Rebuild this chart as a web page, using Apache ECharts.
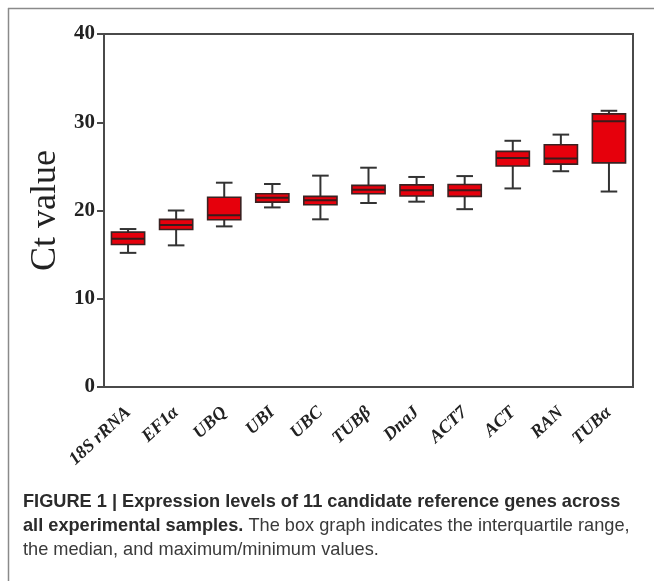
<!DOCTYPE html>
<html>
<head>
<meta charset="utf-8">
<script src="https://cdn.jsdelivr.net/npm/echarts@6/dist/echarts.min.js"></script>
<style>
html,body{margin:0;padding:0;background:#fff;}
#chart{width:654px;height:581px;}
</style>
</head>
<body>
<div id="chart"></div>
<script>
var categories = ['18S rRNA','EF1α','UBQ','UBI','UBC','TUBβ','DnaJ','ACT7','ACT','RAN','TUBα'];
var whiskerMin = [15.2, 16.05, 18.2, 20.35, 19.0, 20.85, 21.0, 20.15, 22.5, 24.45, 22.15];
var q1         = [16.15, 17.85, 18.95, 20.95, 20.65, 21.9, 21.65, 21.6, 25.05, 25.25, 25.4];
var median     = [16.8, 18.35, 19.45, 21.45, 21.15, 22.35, 22.3, 22.3, 25.95, 25.9, 30.1];
var q3         = [17.55, 19.0, 21.5, 21.9, 21.6, 22.85, 22.9, 22.95, 26.7, 27.45, 30.95];
var whiskerMax = [17.9, 20.0, 23.15, 23.0, 23.95, 24.85, 23.8, 23.9, 27.9, 28.6, 31.3];
var yTicks = [0, 10, 20, 30, 40];

var boxData = categories.map(function(c, i){
  return [i, whiskerMin[i], q1[i], median[i], q3[i], whiskerMax[i]];
});

var chart = echarts.init(document.getElementById('chart'), null, {renderer:'canvas'});

function renderBox(params, api){
  var idx = api.value(0);
  var band = api.size([1, 0])[0];
  var bw = band * 0.69;
  var cw = bw * 0.5;
  var pMin = api.coord([idx, api.value(1)]);
  var pQ1 = api.coord([idx, api.value(2)]);
  var pMed = api.coord([idx, api.value(3)]);
  var pQ3 = api.coord([idx, api.value(4)]);
  var pMax = api.coord([idx, api.value(5)]);
  var cx = pMed[0];
  var lineStyle = {stroke:'#333', lineWidth:2};
  return {
    type:'group',
    children:[
      {type:'line', shape:{x1:cx, y1:pMax[1], x2:cx, y2:pQ3[1]}, style:lineStyle},
      {type:'line', shape:{x1:cx, y1:pQ1[1], x2:cx, y2:pMin[1]}, style:lineStyle},
      {type:'line', shape:{x1:cx-cw/2, y1:pMax[1], x2:cx+cw/2, y2:pMax[1]}, style:lineStyle},
      {type:'line', shape:{x1:cx-cw/2, y1:pMin[1], x2:cx+cw/2, y2:pMin[1]}, style:lineStyle},
      {type:'rect', shape:{x:cx-bw/2, y:pQ3[1], width:bw, height:pQ1[1]-pQ3[1]},
        style:{fill:'#e6000c', stroke:'#3a2222', lineWidth:1.6}},
      {type:'line', shape:{x1:cx-bw/2, y1:pMed[1], x2:cx+bw/2, y2:pMed[1]}, style:{stroke:'#3a1a1a', lineWidth:2}}
    ]
  };
}

var option = {
  backgroundColor:'#fff',
  animation:false,
  grid:{left:104, right:21, top:34, bottom:194, show:true, borderColor:'#4a4a4a', borderWidth:2, backgroundColor:'transparent'},
  xAxis:{
    type:'category',
    data:categories,
    axisLine:{lineStyle:{color:'#4a4a4a', width:2}},
    axisTick:{alignWithLabel:true, length:6, lineStyle:{color:'#4a4a4a', width:2}},
    axisLabel:{
      rotate:43, margin:23, interval:0,
      fontFamily:'Liberation Serif', fontStyle:'italic', fontWeight:'bold', fontSize:18, color:'#222'
    }
  },
  yAxis:{
    type:'value', min:yTicks[0], max:yTicks[yTicks.length-1], interval:10,
    name:'Ct value', nameLocation:'middle', nameGap:39,
    nameTextStyle:{fontFamily:'Liberation Serif', fontSize:36, color:'#222'},
    axisLine:{show:true, lineStyle:{color:'#4a4a4a', width:2}},
    axisTick:{show:true, length:7, lineStyle:{color:'#4a4a4a', width:2}},
    splitLine:{show:false},
    axisLabel:{fontFamily:'Liberation Serif', fontWeight:'bold', fontSize:21, color:'#222', margin:9}
  },
  series:[{
    type:'custom',
    renderItem:renderBox,
    encode:{x:0, y:[1,2,3,4,5]},
    data:boxData,
    z:5
  }],
  graphic:[
    {type:'line', shape:{x1:8, y1:8.5, x2:660, y2:8.5}, style:{stroke:'#8a8a8a', lineWidth:1.5}},
    {type:'line', shape:{x1:8.5, y1:8, x2:8.5, y2:590}, style:{stroke:'#8a8a8a', lineWidth:1.5}},
    {type:'text', left:23, top:490, style:{
      text:'{b|FIGURE 1 | Expression levels of 11 candidate reference genes across}\n{b|all experimental samples.}{n| The box graph indicates the interquartile range,}\n{n|the median, and maximum/minimum values.}',
      lineHeight:24,
      rich:{
        b:{fontFamily:'Liberation Sans', fontWeight:'bold', fontSize:18.2, fill:'#2b2b2b', lineHeight:24},
        n:{fontFamily:'Liberation Sans', fontWeight:'normal', fontSize:18.2, fill:'#3a3a3a', lineHeight:24}
      }
    }}
  ]
};
chart.setOption(option);
</script>
</body>
</html>
